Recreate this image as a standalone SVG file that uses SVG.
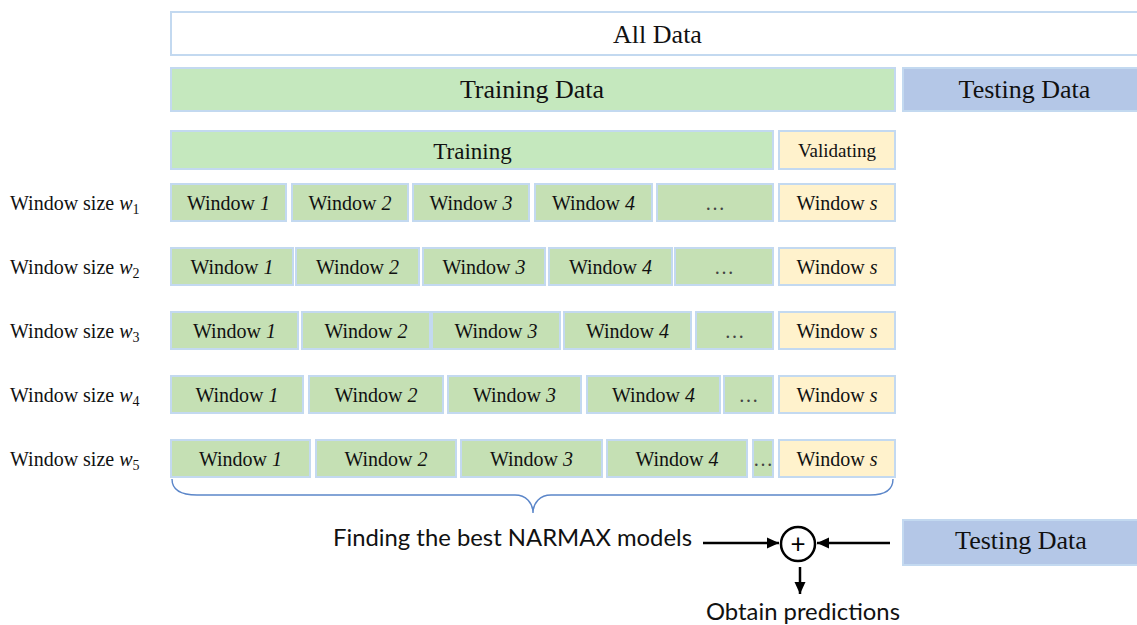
<svg xmlns="http://www.w3.org/2000/svg" width="1137" height="625" viewBox="0 0 1137 625">
<defs>
<style>
.box{stroke:#C3D9F0;stroke-width:2}
.win{fill:#C5E0B4}
.trn{fill:#C5E8BE}
.val{fill:#FFF2CC}
.tst{fill:#B4C7E7}
.all{fill:#FFFFFF}
.t{font-family:"Liberation Serif","Times New Roman",serif;fill:#111;text-anchor:middle}
.w{font-size:20px}
.lbl{font-family:"Liberation Serif","Times New Roman",serif;fill:#111;font-size:20px}
.s{font-family:Lato,"Liberation Sans",sans-serif;fill:#111;font-size:24px}
.arr{stroke:#000;stroke-width:2.5;fill:none}
.dots{fill:#444}
</style>
<marker id="ah" viewBox="0 0 12 12" refX="12" refY="6" markerWidth="12" markerHeight="12" markerUnits="userSpaceOnUse" orient="auto">
<path d="M0,0.5 L12,6 L0,11.5 Z" fill="#000"/>
</marker>
</defs>
<rect width="1137" height="625" fill="#fff"/>

<g id="all-data">
<rect class="box all" x="171" y="12" width="980" height="43"/>
<text class="t" x="657.5" y="43" font-size="26">All Data</text>
</g>
<g id="training-data">
<rect class="box trn" x="171" y="68" width="724" height="43"/>
<text class="t" x="532" y="98" font-size="26">Training Data</text>
</g>
<g id="testing-data-top">
<rect class="box tst" x="903" y="68" width="248" height="43"/>
<text class="t" x="1024.5" y="98" font-size="26">Testing Data</text>
</g>
<g id="training">
<rect class="box trn" x="171" y="131" width="602" height="38"/>
<text class="t" x="472.5" y="159" font-size="23">Training</text>
</g>
<g id="validating">
<rect class="box val" x="779" y="131" width="116" height="38"/>
<text class="t" x="837" y="157" font-size="19">Validating</text>
</g>

<g id="row1">
<text class="lbl" x="10" y="210">Window size <tspan font-style="italic">w</tspan><tspan font-size="14" dy="4">1</tspan></text>
<rect class="box win" x="171" y="184" width="115" height="37"/><text class="t w" x="228.5" y="210">Window <tspan font-style="italic">1</tspan></text>
<rect class="box win" x="292" y="184" width="116" height="37"/><text class="t w" x="350" y="210">Window <tspan font-style="italic">2</tspan></text>
<rect class="box win" x="413" y="184" width="116" height="37"/><text class="t w" x="471" y="210">Window <tspan font-style="italic">3</tspan></text>
<rect class="box win" x="535" y="184" width="117" height="37"/><text class="t w" x="593.5" y="210">Window <tspan font-style="italic">4</tspan></text>
<rect class="box win" x="657" y="184" width="116" height="37"/><text class="t w dots" x="715" y="210">…</text>
<rect class="box val" x="779" y="184" width="116" height="37"/><text class="t w" x="837" y="210">Window <tspan font-style="italic">s</tspan></text>
</g>

<g id="row2">
<text class="lbl" x="10" y="274">Window size <tspan font-style="italic">w</tspan><tspan font-size="14" dy="4">2</tspan></text>
<rect class="box win" x="171" y="248" width="122" height="37"/><text class="t w" x="232" y="274">Window <tspan font-style="italic">1</tspan></text>
<rect class="box win" x="296" y="248" width="123" height="37"/><text class="t w" x="357.5" y="274">Window <tspan font-style="italic">2</tspan></text>
<rect class="box win" x="423" y="248" width="122" height="37"/><text class="t w" x="484" y="274">Window <tspan font-style="italic">3</tspan></text>
<rect class="box win" x="549" y="248" width="123" height="37"/><text class="t w" x="610.5" y="274">Window <tspan font-style="italic">4</tspan></text>
<rect class="box win" x="675" y="248" width="98" height="37"/><text class="t w dots" x="724" y="274">…</text>
<rect class="box val" x="779" y="248" width="116" height="37"/><text class="t w" x="837" y="274">Window <tspan font-style="italic">s</tspan></text>
</g>

<g id="row3">
<text class="lbl" x="10" y="338">Window size <tspan font-style="italic">w</tspan><tspan font-size="14" dy="4">3</tspan></text>
<rect class="box win" x="171" y="312" width="127" height="37"/><text class="t w" x="234.5" y="338">Window <tspan font-style="italic">1</tspan></text>
<rect class="box win" x="302" y="312" width="128" height="37"/><text class="t w" x="366" y="338">Window <tspan font-style="italic">2</tspan></text>
<rect class="box win" x="432" y="312" width="128" height="37"/><text class="t w" x="496" y="338">Window <tspan font-style="italic">3</tspan></text>
<rect class="box win" x="564" y="312" width="127" height="37"/><text class="t w" x="627.5" y="338">Window <tspan font-style="italic">4</tspan></text>
<rect class="box win" x="696" y="312" width="77" height="37"/><text class="t w dots" x="734.5" y="338">…</text>
<rect class="box val" x="779" y="312" width="116" height="37"/><text class="t w" x="837" y="338">Window <tspan font-style="italic">s</tspan></text>
</g>

<g id="row4">
<text class="lbl" x="10" y="402">Window size <tspan font-style="italic">w</tspan><tspan font-size="14" dy="4">4</tspan></text>
<rect class="box win" x="171" y="376" width="132" height="37"/><text class="t w" x="237" y="402">Window <tspan font-style="italic">1</tspan></text>
<rect class="box win" x="309" y="376" width="134" height="37"/><text class="t w" x="376" y="402">Window <tspan font-style="italic">2</tspan></text>
<rect class="box win" x="448" y="376" width="133" height="37"/><text class="t w" x="514.5" y="402">Window <tspan font-style="italic">3</tspan></text>
<rect class="box win" x="587" y="376" width="133" height="37"/><text class="t w" x="653.5" y="402">Window <tspan font-style="italic">4</tspan></text>
<rect class="box win" x="724" y="376" width="49" height="37"/><text class="t w dots" x="748.5" y="402">…</text>
<rect class="box val" x="779" y="376" width="116" height="37"/><text class="t w" x="837" y="402">Window <tspan font-style="italic">s</tspan></text>
</g>

<g id="row5">
<text class="lbl" x="10" y="466">Window size <tspan font-style="italic">w</tspan><tspan font-size="14" dy="4">5</tspan></text>
<rect class="box win" x="171" y="440" width="139" height="37"/><text class="t w" x="240.5" y="466">Window <tspan font-style="italic">1</tspan></text>
<rect class="box win" x="316" y="440" width="140" height="37"/><text class="t w" x="386" y="466">Window <tspan font-style="italic">2</tspan></text>
<rect class="box win" x="461" y="440" width="141" height="37"/><text class="t w" x="531.5" y="466">Window <tspan font-style="italic">3</tspan></text>
<rect class="box win" x="607" y="440" width="140" height="37"/><text class="t w" x="677" y="466">Window <tspan font-style="italic">4</tspan></text>
<rect class="box win" x="753" y="440" width="20" height="37"/><text class="t w dots" x="763" y="466">…</text>
<rect class="box val" x="779" y="440" width="116" height="37"/><text class="t w" x="837" y="466">Window <tspan font-style="italic">s</tspan></text>
</g>

<g id="brace">
<path d="M172,479 C172,490 180,495 197,495 L515,495 C526,495 533,503 533,513 C533,503 540,495 551,495 L870,495 C885,495 893,490 893,479" fill="none" stroke="#5B86C9" stroke-width="1.4"/>
</g>

<g id="finding">
<text class="s" x="333" y="546" textLength="359" lengthAdjust="spacingAndGlyphs">Finding the best NARMAX models</text>
</g>
<g id="sum">
<circle cx="798" cy="544" r="17" fill="#fff" stroke="#000" stroke-width="2.5"/>
<text x="798" y="553" text-anchor="middle" font-family="Lato,'Liberation Sans',sans-serif" font-size="26" fill="#000">+</text>
</g>
<g id="testing-data-bottom">
<rect class="box tst" x="903" y="520" width="248" height="45"/>
<text class="t" x="1021" y="549" font-size="26">Testing Data</text>
</g>
<g id="obtain">
<text class="s" x="706" y="620" textLength="194" lengthAdjust="spacingAndGlyphs">Obtain predictions</text>
</g>

<g id="connectors">
<line class="arr" x1="703" y1="543" x2="779" y2="543" marker-end="url(#ah)"/>
<line class="arr" x1="890" y1="543" x2="817" y2="543" marker-end="url(#ah)"/>
<line class="arr" x1="800" y1="567" x2="800" y2="594" marker-end="url(#ah)"/>
</g>
</svg>
